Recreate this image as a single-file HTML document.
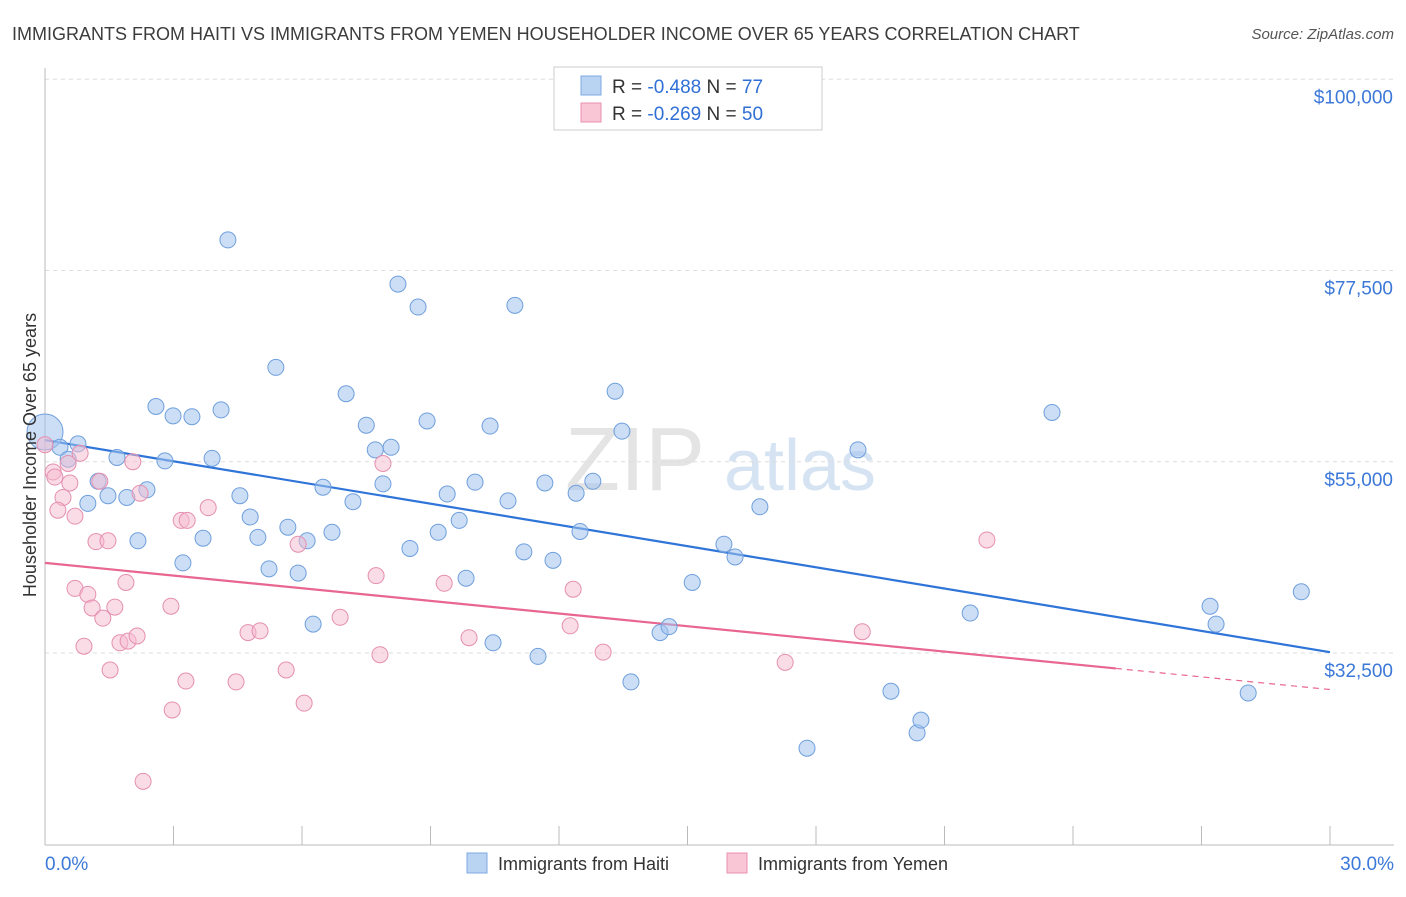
<!DOCTYPE html>
<html><head><meta charset="utf-8">
<style>
html,body{margin:0;padding:0;background:#fff;}
body{width:1406px;height:892px;overflow:hidden;font-family:"Liberation Sans",sans-serif;}
svg text{font-family:"Liberation Sans",sans-serif;}
</style></head>
<body>
<svg id="chart" width="1406" height="892" viewBox="0 0 1406 892">
  <text x="12" y="40" font-size="18" fill="#3c3c3c">IMMIGRANTS FROM HAITI VS IMMIGRANTS FROM YEMEN HOUSEHOLDER INCOME OVER 65 YEARS CORRELATION CHART</text>
  <text x="1394" y="39" font-size="15" fill="#555" font-style="italic" text-anchor="end">Source: ZipAtlas.com</text>
  <g>
    <text x="635" y="490" font-size="90" fill="#e4e4e4" font-family="Liberation Serif" text-anchor="middle">ZIP</text>
    <text x="800" y="490" font-size="72" fill="#d5e3f3" text-anchor="middle">atlas</text>
  </g>
  <g id="grid"></g>
  <g id="axes"></g>
  <g id="trend"></g>
  <g id="points"></g>
  <text x="36" y="455" font-size="18" fill="#333" text-anchor="middle" transform="rotate(-90 36 455)">Householder Income Over 65 years</text>
  <g>
    <rect x="554" y="67" width="268" height="63" fill="#fff" stroke="#ccc"/>
    <rect x="581" y="76" width="20" height="19" fill="#b9d3f3" stroke="#7ea9e0"/>
    <rect x="581" y="103" width="20" height="19" fill="#f9c6d6" stroke="#e890b0"/>
    <text x="612" y="93" font-size="19" fill="#333">R = <tspan fill="#2f6fd6">-0.488</tspan>   N = <tspan fill="#2f6fd6">77</tspan></text>
    <text x="612" y="120" font-size="19" fill="#333">R = <tspan fill="#2f6fd6">-0.269</tspan>   N = <tspan fill="#2f6fd6">50</tspan></text>
  </g>
  <g>
    <rect x="467" y="853" width="20" height="20" fill="#b9d3f3" stroke="#7ea9e0"/>
    <text x="498" y="870" font-size="18" fill="#333">Immigrants from Haiti</text>
    <rect x="727" y="853" width="20" height="20" fill="#f9c6d6" stroke="#e890b0"/>
    <text x="758" y="870" font-size="18" fill="#333">Immigrants from Yemen</text>
  </g>
</svg>
<script>
const yTicks = [32500, 55000, 77500, 100000];
const yTickLabels = ["$32,500", "$55,000", "$77,500", "$100,000"];
const xTickLabels = ["0.0%", "30.0%"];
const haitiX = [0.0,0.35,0.77,0.54,1.24,1.00,1.47,1.68,1.91,2.38,2.17,2.59,2.99,3.43,2.80,4.11,3.90,3.22,3.69,4.27,4.55,4.79,4.97,5.23,5.39,5.67,5.91,6.12,6.26,6.49,6.70,7.03,7.19,7.50,7.71,7.89,8.08,8.24,8.52,8.71,8.92,9.18,9.39,9.67,9.83,10.04,10.39,10.46,10.81,10.97,11.18,11.51,11.67,11.86,12.40,12.49,12.79,13.31,13.47,13.68,14.36,14.57,15.11,15.85,16.11,16.69,17.79,18.98,19.75,20.36,20.45,21.60,23.51,27.20,27.34,28.09,29.33];
const haitiY = [58.5,56.7,57.1,55.3,52.7,50.1,51.0,55.5,50.8,51.7,45.7,61.5,60.4,60.3,55.1,61.1,55.4,43.1,46.0,81.1,51.0,48.5,46.1,42.4,66.1,47.3,41.9,45.7,35.9,52.0,46.7,63.0,50.3,59.3,56.4,52.4,56.7,75.9,44.8,73.2,59.8,46.7,51.2,48.1,41.3,52.6,59.2,33.7,50.4,73.4,44.4,32.1,52.5,43.4,51.3,46.8,52.7,63.3,58.6,29.1,34.9,35.6,40.8,45.3,43.8,49.7,21.3,56.4,28.0,23.1,24.6,37.2,60.8,38.0,35.9,27.8,39.7];
const yemenX = [0.0,0.19,0.23,0.42,0.30,0.58,0.54,0.70,0.82,1.28,0.70,0.91,1.00,1.10,1.19,1.35,1.47,1.52,1.63,1.75,1.89,1.94,2.05,2.15,2.22,2.94,2.97,2.29,3.18,3.32,3.29,3.81,4.46,4.74,5.02,5.63,5.91,6.05,6.89,7.73,7.82,7.89,9.32,9.90,12.33,12.26,13.03,17.28,19.08,21.99];
const yemenY = [57.0,53.8,53.2,50.8,49.3,52.5,54.8,48.6,56.0,52.7,40.1,33.3,39.4,37.8,45.6,36.6,45.7,30.5,37.9,33.7,40.8,33.9,55.0,34.5,51.3,38.0,25.8,17.4,48.1,48.1,29.2,49.6,29.1,34.9,35.1,30.5,45.3,26.6,36.7,41.6,32.3,54.8,40.7,34.3,40.0,35.7,32.6,31.4,35.0,45.8];
const haitiTrend = [57.55, 32.6];
const yemenTrend = [43.1, 28.2];
const yemenSolidEnd = 25;

const NS = "http://www.w3.org/2000/svg";
function xS(p){ return 45 + p / 30 * 1285; }
function yS(k){ return 653 - (k * 1000 - 32500) * 0.0085; }
function mk(tag, attrs, parent){
  const e = document.createElementNS(NS, tag);
  for (const k in attrs) e.setAttribute(k, attrs[k]);
  parent.appendChild(e);
  return e;
}
const grid = document.getElementById("grid");
const axes = document.getElementById("axes");
yTicks.forEach((v, i) => {
  const y = yS(v / 1000);
  const l = mk("line", {x1:45, x2:1394, y1:y, y2:y, stroke:"#ddd", "stroke-dasharray":"4,4"}, grid);
  
  
  const t = mk("text", {x:1393, y:y + 24, "font-size":19, fill:"#3b78d8", "text-anchor":"end"}, axes);
  t.textContent = yTickLabels[i];
  
  
});
const yAxis = mk("line", {x1:45, x2:45, y1:68, y2:845, stroke:"#bbb"}, axes);


const xAxis = mk("line", {x1:45, x2:1394, y1:845, y2:845, stroke:"#bbb"}, axes);


for (let i = 0; i <= 10; i++) {
  const x = xS(i * 3);
  const tk = mk("line", {x1:x, x2:x, y1:826, y2:845, stroke:"#bbb"}, axes);
  
  
}
const xl0 = mk("text", {x:45, y:870, "font-size":19, fill:"#3b78d8"}, axes);
xl0.textContent = xTickLabels[0];


const xl1 = mk("text", {x:1394, y:870, "font-size":19, fill:"#3b78d8", "text-anchor":"end"}, axes);
xl1.textContent = xTickLabels[1];



const pts = document.getElementById("points");
haitiX.forEach((x, i) => {
  const c = mk("circle", {cx:xS(x), cy:yS(haitiY[i]), r:(i === 0 ? 18 : 8), fill:"rgba(160,195,238,0.55)", stroke:"#6f9fdc", "stroke-width":1}, pts);
  
  
});
yemenX.forEach((x, i) => {
  const c = mk("circle", {cx:xS(x), cy:yS(yemenY[i]), r:8, fill:"rgba(246,185,206,0.5)", stroke:"#e58fb0", "stroke-width":1}, pts);
  
  
});
const tr = document.getElementById("trend");
const hl = mk("line", {x1:xS(0), y1:yS(haitiTrend[0]), x2:xS(30), y2:yS(haitiTrend[1]), stroke:"#2f74d8", "stroke-width":2.2}, tr);


const yMid = yemenTrend[0] + (yemenTrend[1] - yemenTrend[0]) * yemenSolidEnd / 30;
const yl = mk("line", {x1:xS(0), y1:yS(yemenTrend[0]), x2:xS(yemenSolidEnd), y2:yS(yMid), stroke:"#e8668f", "stroke-width":2.2}, tr);


const yd = mk("line", {x1:xS(yemenSolidEnd), y1:yS(yMid), x2:xS(30), y2:yS(yemenTrend[1]), stroke:"#e8668f", "stroke-width":1.2, "stroke-dasharray":"6,5"}, tr);


</script>
</body></html>
